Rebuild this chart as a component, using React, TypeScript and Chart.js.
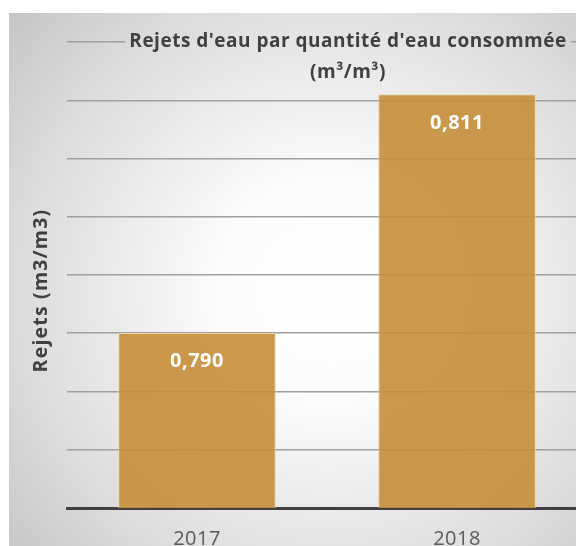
import React, { useEffect, useRef } from "react";
import { Chart, registerables } from "chart.js";

Chart.register(...registerables);

const categories: string[] = ["2017", "2018"];
const values: number[] = [0.79, 0.811];
const yMin = 0.7746;
const yMax = 0.8156;
const gridCount = 8;
const titleLines: string[] = ["Rejets d'eau par quantité d'eau consommée", "(m³/m³)"];
const yTitle = "Rejets (m3/m3)";

const FONT = "'Open Sans', 'DejaVu Sans', sans-serif";

function makeGradient(ctx: CanvasRenderingContext2D) {
  const g = ctx.createRadialGradient(322, 282, 0, 322, 282, 440);
  g.addColorStop(0, "#ffffff");
  g.addColorStop(0.25, "#fcfcfc");
  g.addColorStop(0.7, "#dcdcdc");
  g.addColorStop(1, "#c2c2c2");
  return g;
}

const bgPlugin = {
  id: "bgPanel",
  beforeDraw(chart: any) {
    const ctx: CanvasRenderingContext2D = chart.ctx;
    ctx.save();
    ctx.fillStyle = "#ffffff";
    ctx.fillRect(0, 0, chart.width, chart.height);
    ctx.fillStyle = makeGradient(ctx);
    ctx.fillRect(1, 5, chart.width - 1, chart.height - 5);
    ctx.restore();
  },
};

const labelPlugin = {
  id: "barLabels",
  afterDatasetsDraw(chart: any) {
    const ctx: CanvasRenderingContext2D = chart.ctx;
    const meta = chart.getDatasetMeta(0);
    const xScale = chart.scales.x;
    ctx.save();
    (ctx as any).letterSpacing = "0.5px";
    ctx.textAlign = "center";
    ctx.textBaseline = "alphabetic";
    meta.data.forEach((bar: any, i: number) => {
      const v = chart.data.datasets[0].data[i] as number;
      ctx.fillStyle = "#ffffff";
      ctx.font = `bold 20px ${FONT}`;
      ctx.fillText(v.toFixed(3).replace(".", ","), bar.x, bar.y + 34.5);
    });
    ctx.fillStyle = "#595959";
    ctx.font = `20px ${FONT}`;
    (chart.data.labels as string[]).forEach((lab: string, i: number) => {
      ctx.fillText(lab, xScale.getPixelForValue(i), 536.5);
    });
    ctx.restore();
  },
};

const titlePlugin = {
  id: "customTitles",
  afterDraw(chart: any) {
    const ctx: CanvasRenderingContext2D = chart.ctx;
    ctx.save();
    ctx.font = `bold 19px ${FONT}`;
    (ctx as any).letterSpacing = "0.5px";
    ctx.textAlign = "center";
    ctx.textBaseline = "alphabetic";
    const cx = 340;
    const ys = [38.7, 70.3];
    titleLines.forEach((t, i) => {
      const w = ctx.measureText(t).width;
      ctx.fillStyle = makeGradient(ctx);
      ctx.fillRect(cx - w / 2 - 4, ys[i] - 17, w + 8, 24);
    });
    ctx.fillStyle = "#404040";
    titleLines.forEach((t, i) => ctx.fillText(t, cx, ys[i]));
    // y axis title
    (ctx as any).letterSpacing = "1.2px";
    ctx.font = `bold 19.5px ${FONT}`;
    ctx.translate(38.5, 282.5);
    ctx.rotate(-Math.PI / 2);
    ctx.fillText(yTitle, 0, 0);
    ctx.restore();
  },
};

export default function App() {
  const ref = useRef<HTMLCanvasElement | null>(null);
  useEffect(() => {
    if (!ref.current) return;
    const chart = new Chart(ref.current, {
      type: "bar",
      data: {
        labels: categories,
        datasets: [
          {
            data: values,
            backgroundColor: "rgba(197,141,56,0.9)",
            borderColor: "rgba(240,215,170,0.9)",
            borderWidth: 1,
            barPercentage: 0.606,
            categoryPercentage: 1,
          },
        ],
      },
      options: {
        animation: false,
        responsive: false,
        layout: { padding: { left: 59, top: 34, right: 3, bottom: 20 } },
        plugins: { legend: { display: false }, title: { display: false }, tooltip: { enabled: false } },
        scales: {
          x: {
            grid: { display: false, drawTicks: false },
            border: { display: true, color: "#404040", width: 3 },
            ticks: { display: false },
            afterFit: (s: any) => {
              s.height = 40;
            },
          },
          y: {
            min: yMin,
            max: yMax,
            grid: { color: "#a0a0a0", lineWidth: 1.5, drawTicks: false },
            border: { display: false },
            ticks: { display: false },
            afterBuildTicks: (s: any) => {
              const arr = [];
              for (let i = 0; i <= gridCount; i++) arr.push({ value: yMin + ((yMax - yMin) * i) / gridCount });
              s.ticks = arr;
            },
            afterFit: (s: any) => {
              s.width = 0;
            },
          },
        },
      },
      plugins: [bgPlugin, labelPlugin, titlePlugin],
    });
    return () => chart.destroy();
  }, []);
  return (
    <div style={{ width: 576, height: 538, overflow: "hidden", position: "relative" }}>
      <canvas ref={ref} width={582} height={560} style={{ display: "block", width: 582, height: 560 }} />
    </div>
  );
}
